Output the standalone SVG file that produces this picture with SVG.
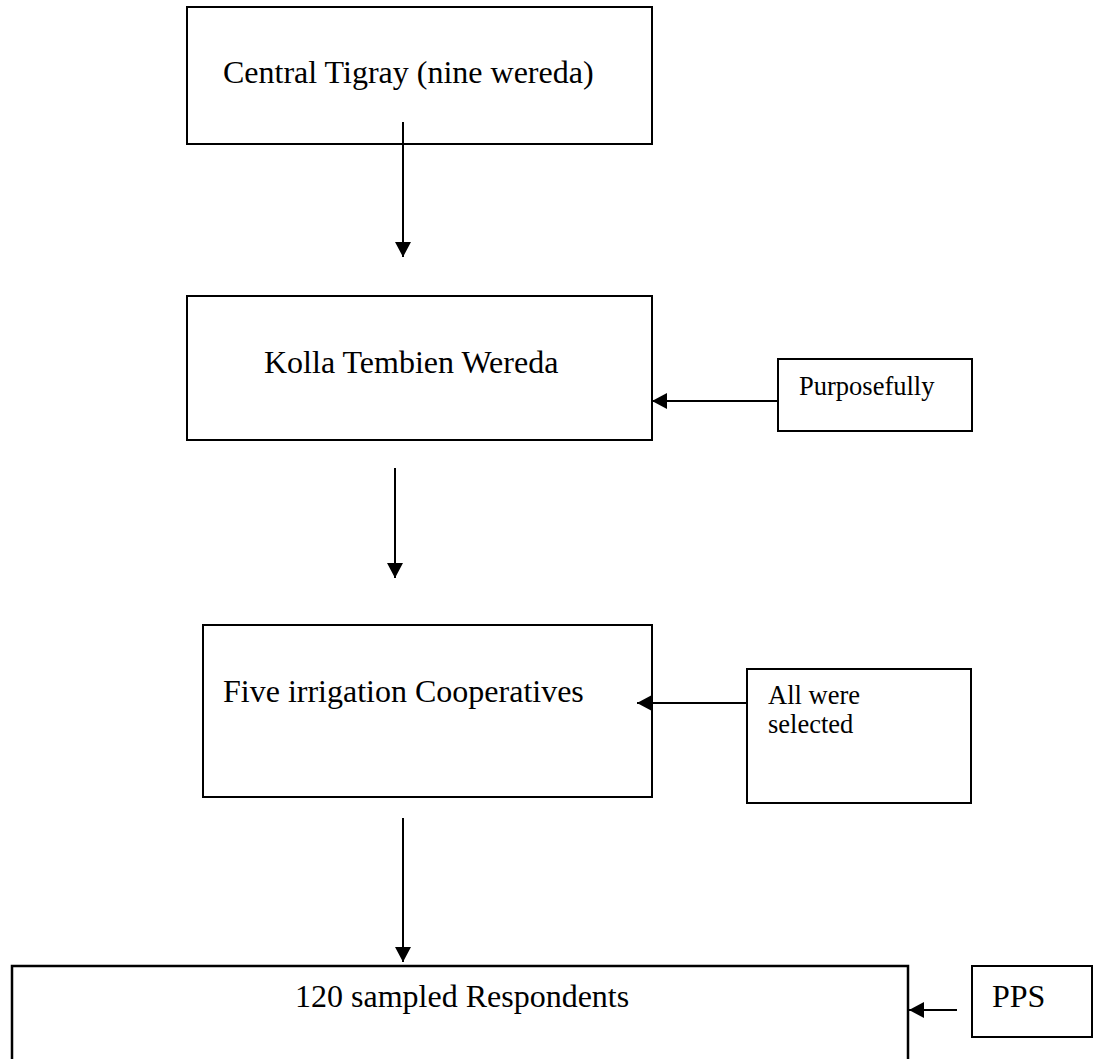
<svg xmlns="http://www.w3.org/2000/svg" width="1102" height="1059" viewBox="0 0 1102 1059">
<style>
.box{fill:#fff;stroke:#000;stroke-width:2}
.lbl{font-family:"Liberation Serif","Times New Roman",serif;fill:#000}
.big{font-size:32px}
.small{font-size:26.5px}
.conn{stroke:#000;stroke-width:2;fill:none}
</style>
<defs>
<marker id="ah" markerUnits="userSpaceOnUse" markerWidth="16" markerHeight="16" refX="15" refY="8" orient="auto" viewBox="0 0 16 16">
<path d="M0,0 L15,8 L0,16 z" fill="#000"/>
</marker>
</defs>
<rect width="1102" height="1059" fill="#fff"/>
<g id="n1"><rect class="box" x="187" y="7" width="465" height="137"/><text class="lbl big" x="223" y="83">Central Tigray (nine wereda)</text></g>
<g id="n2"><rect class="box" x="187" y="296" width="465" height="144"/><text class="lbl big" x="264" y="373">Kolla Tembien Wereda</text></g>
<g id="n3"><rect class="box" x="203" y="625" width="449" height="172"/><text class="lbl big" x="223" y="702">Five irrigation Cooperatives</text></g>
<g id="n4"><rect class="box" x="12" y="966" width="896" height="120" style="stroke-width:2.5"/><text class="lbl big" x="295" y="1007">120 sampled Respondents</text></g>
<g id="s1"><rect class="box" x="778" y="359" width="194" height="72"/><text class="lbl small" x="799" y="395">Purposefully</text></g>
<g id="s2"><rect class="box" x="747" y="669" width="224" height="134"/><text class="lbl small" x="768" y="704">All were</text><text class="lbl small" x="768" y="733">selected</text></g>
<g id="s3"><rect class="box" x="972" y="966" width="120" height="71"/><text class="lbl big" x="992" y="1007">PPS</text></g>
<g id="connectors">
<line class="conn" x1="403" y1="122" x2="403" y2="257" marker-end="url(#ah)"/>
<line class="conn" x1="778" y1="401" x2="652" y2="401" marker-end="url(#ah)"/>
<line class="conn" x1="395" y1="468" x2="395" y2="578" marker-end="url(#ah)"/>
<line class="conn" x1="747" y1="703" x2="637" y2="703" marker-end="url(#ah)"/>
<line class="conn" x1="403" y1="818" x2="403" y2="962" marker-end="url(#ah)"/>
<line class="conn" x1="957" y1="1010" x2="909" y2="1010" marker-end="url(#ah)"/>
</g>
</svg>
